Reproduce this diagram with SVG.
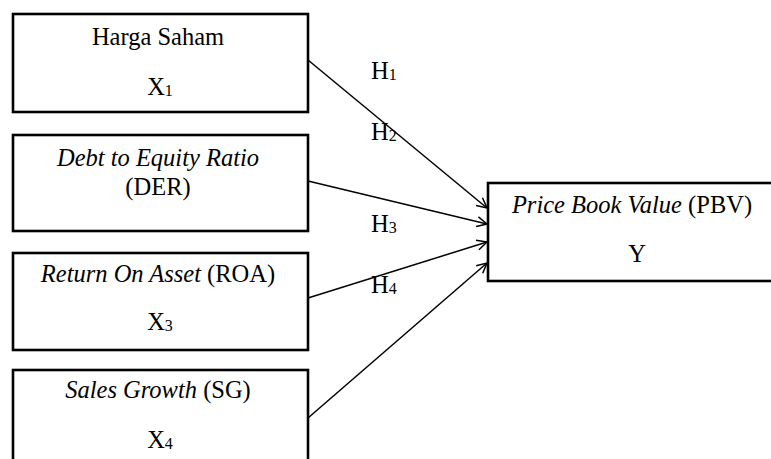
<svg xmlns="http://www.w3.org/2000/svg" width="771" height="459" viewBox="0 0 771 459">
<style>
  .box { fill: #fff; stroke: #000; stroke-width: 2.6; }
  .t { font-family: "Liberation Serif", "Times New Roman", serif; font-size: 24.5px; fill: #000; text-anchor: middle; }
  .h { font-family: "Liberation Serif", "Times New Roman", serif; font-size: 24.5px; fill: #000; }
  .i { font-style: italic; }
  .sub { font-size: 16px; }
  .conn { stroke: #000; stroke-width: 1.5; fill: none; marker-end: url(#arr); }
</style>
<defs>
  <marker id="arr" viewBox="0 0 12 12" refX="11" refY="6" markerWidth="12" markerHeight="12" markerUnits="userSpaceOnUse" orient="auto">
    <path d="M1,1 L11,6 L1,11" fill="none" stroke="#000" stroke-width="1.5"/>
  </marker>
</defs>
<rect width="771" height="459" fill="#fff"/>
<g id="connectors">
  <line class="conn" x1="308" y1="60" x2="487" y2="208"/>
  <line class="conn" x1="308" y1="181" x2="487" y2="224"/>
  <line class="conn" x1="308" y1="298" x2="487" y2="242"/>
  <line class="conn" x1="308" y1="418" x2="487" y2="263"/>
</g>
<g id="labels">
  <text class="h" x="371" y="79">H<tspan class="sub" dy="1">1</tspan></text>
  <text class="h" x="371" y="140">H<tspan class="sub" dy="1">2</tspan></text>
  <text class="h" x="371" y="232">H<tspan class="sub" dy="1">3</tspan></text>
  <text class="h" x="371" y="293">H<tspan class="sub" dy="1">4</tspan></text>
</g>
<g id="x1">
  <rect class="box" x="13" y="14" width="295" height="98"/>
  <text class="t" x="158" y="45">Harga Saham</text>
  <text class="t" x="160" y="95">X<tspan class="sub" dy="1">1</tspan></text>
</g>
<g id="x2">
  <rect class="box" x="13" y="135" width="295" height="96"/>
  <text class="t" x="158" y="166"><tspan class="i">Debt to Equity Ratio</tspan></text>
  <text class="t" x="158" y="195">(DER)</text>
</g>
<g id="x3">
  <rect class="box" x="13" y="253" width="295" height="97"/>
  <text class="t" x="158" y="282"><tspan class="i">Return On Asset</tspan> (ROA)</text>
  <text class="t" x="160" y="330">X<tspan class="sub" dy="1">3</tspan></text>
</g>
<g id="x4">
  <rect class="box" x="13" y="370" width="295" height="95"/>
  <text class="t" x="158" y="398"><tspan class="i">Sales Growth</tspan> (SG)</text>
  <text class="t" x="160" y="448">X<tspan class="sub" dy="1">4</tspan></text>
</g>
<g id="y">
  <rect class="box" x="488" y="183" width="300" height="98"/>
  <text class="t" x="632" y="213"><tspan class="i">Price Book Value</tspan> (PBV)</text>
  <text class="t" x="637" y="262">Y</text>
</g>
</svg>
